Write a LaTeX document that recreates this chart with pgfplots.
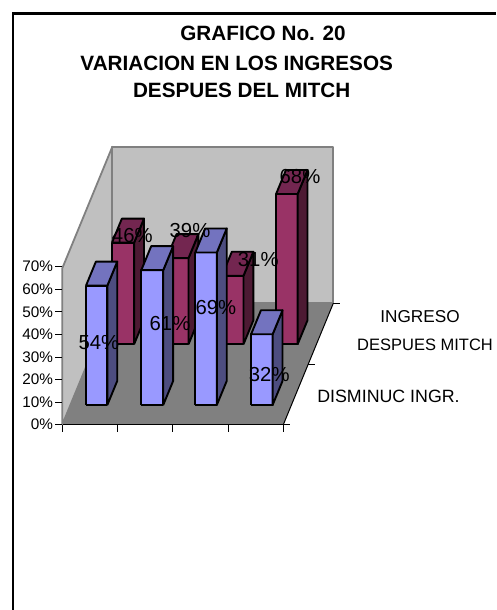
\documentclass[border=0pt]{standalone}
\usepackage{fontspec}
\setmainfont{Liberation Sans}
\usepackage{pgfplots}
\pgfplotsset{compat=1.18}
\definecolor{fb}{HTML}{9999FF}\definecolor{fbs}{HTML}{4D4D80}\definecolor{fbt}{HTML}{7373BF}
\definecolor{bk}{HTML}{993366}\definecolor{bks}{HTML}{4D1A33}\definecolor{bkt}{HTML}{732650}
\definecolor{wall}{HTML}{C0C0C0}\definecolor{wallline}{HTML}{808080}
% x0 x1 y0 y1 value front side top
\newcommand{\barthreed}[8]{%
 \addplot3[barline,fill=#6] coordinates {(#1,#3,0) (#2,#3,0) (#2,#3,#5) (#1,#3,#5) (#1,#3,0)};
 \addplot3[barline,fill=#7] coordinates {(#2,#3,0) (#2,#4,0) (#2,#4,#5) (#2,#3,#5) (#2,#3,0)};
 \addplot3[barline,fill=#8] coordinates {(#1,#3,#5) (#2,#3,#5) (#2,#4,#5) (#1,#4,#5) (#1,#3,#5)};
}
% x y z value
\newcommand{\vallabel}[4]{%
 \addplot3[only marks,mark=none,point meta=explicit,
   nodes near coords={\pgfmathprintnumber[assume math mode=true,precision=0]{\pgfplotspointmeta}\%},
   nodes near coords align={anchor=center},
   every node near coord/.style={font=\fontsize{20.3}{20.3}\selectfont,inner sep=0pt,text=black}]
   coordinates {(#1,#2,#3) [#4]};
}
\begin{document}
\begin{tikzpicture}[x=1pt,y=1pt]
\path[use as bounding box] (0,0) rectangle (496,610);
\begin{axis}[
  at={(62.3pt,185.3pt)},anchor=origin,
  x={(55.25pt,0pt)},y={(25pt,60.7pt)},z={(0pt,2.21pt)},
  xmin=0,xmax=4,ymin=0,ymax=2,zmin=0,zmax=70.8,
  hide axis,clip=false,
  barline/.style={draw=black,line width=1.9pt,line join=round,mark=none,solid},
  wallstyle/.style={fill=wall,draw=wallline,line width=1.8pt,line join=round,mark=none,solid}]
 % walls and floor
 \addplot3[wallstyle] coordinates {(0,0,0) (0,2,0) (0,2,70.8) (0,0,70.8) (0,0,0)};
 \addplot3[wallstyle] coordinates {(0,2,0) (4,2,0) (4,2,70.8) (0,2,70.8) (0,2,0)};
 \addplot3[fill=wallline,draw=none,mark=none] coordinates {(0,0,0) (4,0,0) (4,2,0) (0,2,0) (0,0,0)};
 \addplot3[draw=black,line width=1pt,mark=none,solid] coordinates {(4,0,0) (4,2,0)};
 % rear series: INGRESO DESPUES MITCH
 \barthreed{0.30}{0.70}{1.325}{1.72}{46}{bk}{bks}{bkt}
 \vallabel{0.611}{1.45}{46}{46}
 \barthreed{1.29}{1.685}{1.325}{1.72}{39}{bk}{bks}{bkt}
 \vallabel{1.51}{1.771}{39}{39}
 \barthreed{2.29}{2.68}{1.325}{1.72}{31}{bk}{bks}{bkt}
 \vallabel{2.823}{1.60}{31}{31}
 \barthreed{3.27}{3.66}{1.325}{1.72}{68}{bk}{bks}{bkt}
 \vallabel{3.574}{1.61}{68}{68}
 % front series: DISMINUC INGR.
 \barthreed{0.282}{0.668}{0.325}{0.72}{54}{fb}{fbs}{fbt}
 \vallabel{0.498}{0.367}{27}{54}
 \barthreed{1.283}{1.68}{0.325}{0.72}{61}{fb}{fbs}{fbt}
 \vallabel{1.696}{0.56}{30.5}{61}
 \barthreed{2.26}{2.65}{0.325}{0.72}{69}{fb}{fbs}{fbt}
 \vallabel{2.474}{0.679}{34.5}{69}
 \barthreed{3.27}{3.66}{0.325}{0.72}{32}{fb}{fbs}{fbt}
 \vallabel{3.632}{0.252}{16}{32}
 % depth axis ticks
 \draw[black,line width=0.8pt] (axis cs:4,0,0) -- ++(7pt,0pt);
 \draw[black,line width=0.8pt] (axis cs:4,1,0) -- ++(7pt,0pt);
 \draw[black,line width=0.8pt] (axis cs:4,2,0) -- ++(7pt,0pt);
\end{axis}
% the value axis with its ticks
\begin{axis}[
  at={(62.3pt,185.3pt)},anchor=origin,scale only axis,
  width=221pt,height=158pt,
  xmin=0,xmax=4,ymin=0,ymax=70,
  axis y line=left,axis x line=bottom,
  axis line style={-},
  y axis line style={draw=wallline,line width=1.6pt},
  x axis line style={draw=black,line width=1pt},
  xtick={0,1,2,3,4},xticklabels={},
  ytick={0,10,20,30,40,50,60,70},
  yticklabel={\pgfmathprintnumber[assume math mode=true]{\tick}\%},
  yticklabel style={font=\fontsize{15.3}{15.3}\selectfont,inner sep=0pt,xshift=-2pt},
  tick align=outside,major tick length=7pt,
  tick style={draw=black,line width=0.8pt}]
\end{axis}
% chart frame, open at right and bottom as in the source
\draw[black,line width=2.6pt] (12.8,0) -- (12.8,596.7) -- (496,596.7);
% title
\node[font=\bfseries\fontsize{20.7}{20.7}\selectfont,inner sep=0pt] at (263,577) {GRAFICO No. 20};
\node[font=\bfseries\fontsize{20.7}{20.7}\selectfont,inner sep=0pt] at (236.7,547) {VARIACION EN LOS INGRESOS};
\node[font=\bfseries\fontsize{20.7}{20.7}\selectfont,inner sep=0pt] at (241.7,519.3) {DESPUES DEL MITCH};
% series names
\node[font=\fontsize{17.2}{17.2}\selectfont,inner sep=0pt] at (420,293) {INGRESO};
\node[font=\fontsize{16.5}{16.5}\selectfont,inner sep=0pt] at (425,265) {DESPUES MITCH};
\node[font=\fontsize{17.8}{17.8}\selectfont,inner sep=0pt] at (388.5,214) {DISMINUC INGR.};
\end{tikzpicture}
\end{document}
